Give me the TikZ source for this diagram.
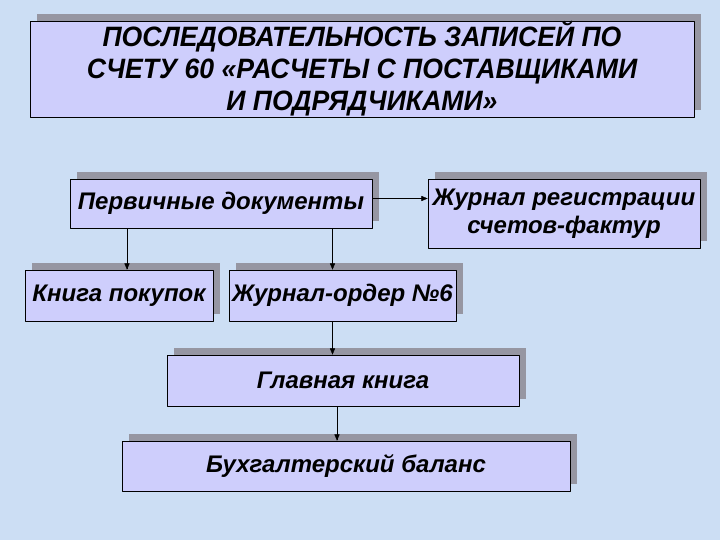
\documentclass[tikz,border=0pt]{standalone}
\usepackage{fontspec}
\setmainfont{Liberation Sans}
\usepackage{tikz}
\usetikzlibrary{arrows, shadows, positioning, calc}
\definecolor{bgblue}{RGB}{204,222,244}
\definecolor{boxfill}{RGB}{206,206,252}
\definecolor{shadowgray}{RGB}{150,150,162}

\begin{document}
\begin{tikzpicture}[line cap=round,line join=round,>=triangle 45,x=1pt,y=-1pt]
\tikzstyle{every node}=[font=\bfseries\itshape\fontsize{24}{28}\selectfont]
\tikzstyle{blok}=[draw=black, line width=0.8pt, fill=boxfill, align=center, inner sep=0pt, drop shadow={shadow xshift=7pt,shadow yshift=7pt,fill=shadowgray,opacity=1}]
\fill[bgblue] (0,0) rectangle (720,540);
\useasboundingbox (0,0) rectangle (720,540);
% boxes
\node[blok, minimum width=664pt, minimum height=96pt, font=\bfseries\itshape\fontsize{28}{32}\selectfont\addfontfeature{FakeStretch=0.95}] (title) at (362,69) {\raisebox{-3pt}{\parbox{640pt}{\centering ПОСЛЕДОВАТЕЛЬНОСТЬ ЗАПИСЕЙ ПО\\СЧЕТУ 60 «РАСЧЕТЫ С ПОСТАВЩИКАМИ\\И ПОДРЯДЧИКАМИ»}}};
\node[blok, minimum width=302pt, minimum height=49pt] (perv) at (221,203.5) {Первичные документы};
\node[blok, minimum width=272pt, minimum height=69pt] (jour) at (564,213.5) {Журнал регистрации\\счетов-фактур};
\node[blok, minimum width=188pt, minimum height=51pt] (kniga) at (119,295.5) {Книга покупок};
\node[blok, minimum width=227pt, minimum height=51pt] (order) at (342.5,295.5) {Журнал-ордер №6};
\node[blok, minimum width=352pt, minimum height=51pt] (glav) at (343,380.5) {Главная книга};
\node[blok, minimum width=448pt, minimum height=50pt] (buh) at (346,466) {Бухгалтерский баланс};
% arrows
\draw[->] ([yshift=5pt]perv.east) -- ([yshift=5pt]perv.east -| jour.west);
\draw[->] ([xshift=8pt]kniga.north |- perv.south) -- ([xshift=8pt]kniga.north);
\draw[->] ([xshift=-10pt]order.north |- perv.south) -- ([xshift=-10pt]order.north);
\draw[->] ([xshift=-10pt]order.south) -- ([xshift=-10pt]order.south |- glav.north);
\draw[->] ([xshift=-6pt]glav.south) -- ([xshift=-6pt]glav.south |- buh.north);
\end{tikzpicture}
\end{document}
